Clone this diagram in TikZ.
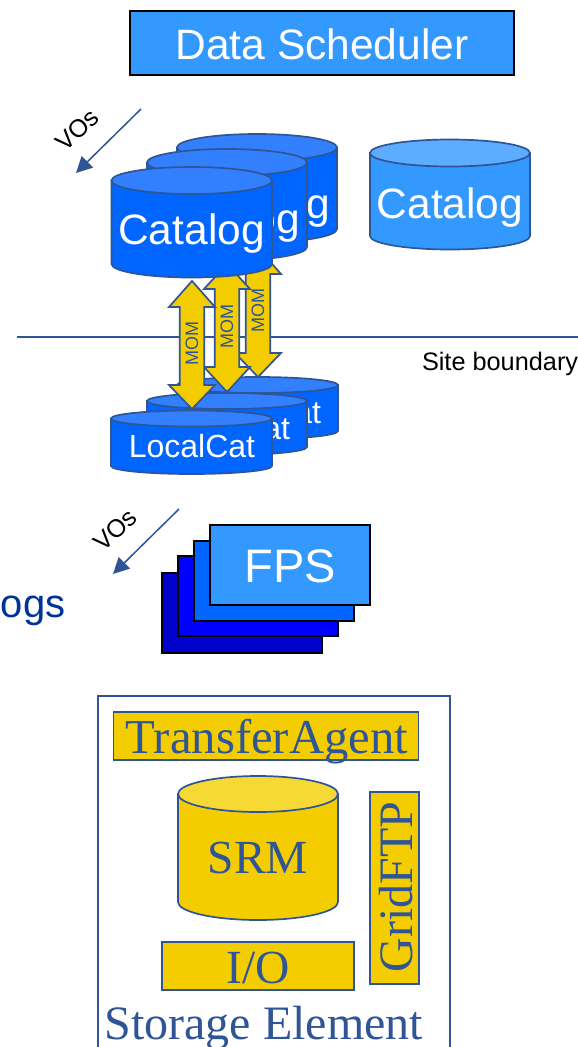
\documentclass[tikz,border=0pt]{standalone}
\usepackage{fontspec}
\setmainfont{Liberation Sans}
\newfontfamily\timesf{Liberation Serif}
\usetikzlibrary{arrows.meta}
\definecolor{edgeblue}{HTML}{2F5597}
\definecolor{skyb}{HTML}{3399FF}
\definecolor{skytop}{HTML}{5CADFF}
\definecolor{midb}{HTML}{0066FF}
\definecolor{midtop}{HTML}{3380FF}
\definecolor{goldf}{HTML}{F4CD00}
\definecolor{goldtop}{HTML}{F6D935}
\definecolor{ogsblue}{HTML}{003399}
\definecolor{darkb}{HTML}{0000CC}
% #1 left, #2 right, #3 ellipse centre y, #4 ry, #5 side end y, #6 body, #7 top
\newcommand{\mycyl}[7]{%
  \pgfmathsetmacro{\rxx}{(#2-#1)/2}%
  \draw[cylline,fill=#6] (#1,#3) -- (#1,#5) arc[start angle=180,end angle=360,x radius=\rxx pt,y radius=#4 pt] -- (#2,#3) -- cycle;%
  \draw[cylline,fill=#7] (#1,#3) arc[start angle=180,end angle=-180,x radius=\rxx pt,y radius=#4 pt] -- cycle;%
}
\newcommand{\mycylb}[8]{%
  \pgfmathsetmacro{\rxx}{(#2-#1)/2}%
  \draw[cylline,fill=#7] (#1,#3) -- (#1,#6) arc[start angle=180,end angle=360,x radius=\rxx pt,y radius=#5 pt] -- (#2,#3) -- cycle;%
  \draw[cylline,fill=#8] (#1,#3) arc[start angle=180,end angle=-180,x radius=\rxx pt,y radius=#4 pt] -- cycle;%
}
% #1 centre x, #2 top tip, #3 top head base, #4 bottom head base, #5 bottom tip
\newcommand{\myarrow}[5]{%
  \draw[cylline,fill=goldf,line join=miter] (#1,#2) -- (#1+23,#3) -- (#1+12.3,#3) -- (#1+12.3,#4) -- (#1+23,#4) -- (#1,#5) -- (#1-23,#4) -- (#1-12.3,#4) -- (#1-12.3,#3) -- (#1-23,#3) -- cycle;%
}
\tikzset{
  cylline/.style={draw=edgeblue,line width=1.7pt},
  txt/.style={inner sep=0pt,outer sep=0pt,anchor=base},
  white txt/.style={txt,text=white},
  serif txt/.style={txt,text=edgeblue,font=\timesf\fontsize{48}{50}\selectfont},
  blackbox/.style={draw=black,line width=2pt},
  goldbox/.style={draw=edgeblue,line width=1.8pt,fill=goldf},
  voarrow/.style={draw=edgeblue,line width=1.5pt,-{Triangle[length=16pt,width=16pt]}},
  mom/.style={inner sep=0pt,rotate=90,text=edgeblue,font=\fontsize{18}{19}\selectfont},
  vos/.style={inner sep=0pt,rotate=43,font=\fontsize{25}{26}\selectfont},
}
\begin{document}
\begin{tikzpicture}[x=1pt,y=-1pt]
\useasboundingbox (0,0) rectangle (578,1047);
\clip (0,0) rectangle (578,1047);
\fill[white] (0,0) rectangle (578,1047);

% Data scheduler
\node[blackbox,fill=skyb,minimum width=384pt,minimum height=64pt,inner sep=0pt] (sched) at (322,43) {};
\node[white txt,font=\fontsize{42.5}{44}\selectfont] (schedt) at (322,59) {Data Scheduler};

% VOs top
\coordinate (vo1a) at (141,109);
\coordinate (vo1b) at (76,173);
\draw[voarrow] (vo1a) -- (vo1b);
\node[vos] (vo1t) at (77,130) {VOs};

% Site boundary
\coordinate (sbl) at (17,337);
\coordinate (sbr) at (578,337);
\draw[edgeblue,line width=1.3pt] (sbl) -- (sbr);
\node[txt,anchor=base west,font=\fontsize{25.3}{27}\selectfont] (sb) at (422,370) {Site boundary};

% local catalogs
\mycyl{177}{338}{385}{8}{431}{midb}{midtop}
\node[white txt,font=\fontsize{32}{33}\selectfont] (lc3) at (258,423) {LocalCat};
\mycyl{147}{307}{401}{8}{447}{midb}{midtop}
\node[white txt,font=\fontsize{32}{33}\selectfont] (lc2) at (227,439) {LocalCat};
\mycyl{111}{272}{418.5}{8}{466}{midb}{midtop}
\node[white txt,font=\fontsize{32}{33}\selectfont] (lc1) at (192,457) {LocalCat};

% MOM arrows
\myarrow{258}{248}{274}{353}{377}
\node[mom] (m3) at (258,310) {MOM};
\myarrow{227}{264}{289}{367}{392}
\node[mom] (m2) at (227,326) {MOM};
\myarrow{192}{281}{307}{385}{409}
\node[mom] (m1) at (192,343) {MOM};

% Catalogs
\mycyl{177}{337}{147.5}{13.5}{229}{midb}{midtop}
\node[white txt,font=\fontsize{42.5}{44}\selectfont] (c3) at (257,218) {Catalog};
\mycyl{147}{307}{162.5}{13.5}{247}{midb}{midtop}
\node[white txt,font=\fontsize{42.5}{44}\selectfont] (c2) at (227,233) {Catalog};
\mycyl{111.5}{272}{180.5}{13.5}{264}{midb}{midtop}
\node[white txt,font=\fontsize{42.5}{44}\selectfont] (c1) at (191.5,244) {Catalog};
\mycyl{370}{530}{153}{13.5}{236}{skyb}{skytop}
\node[white txt,font=\fontsize{42.5}{44}\selectfont] (c4) at (450,218) {Catalog};

% VOs lower
\coordinate (vo2a) at (179,509);
\coordinate (vo2b) at (113,574);
\draw[voarrow] (vo2a) -- (vo2b);
\node[vos] (vo2t) at (115,530) {VOs};

% ogs
\node[txt,anchor=base west,text=ogsblue,font=\fontsize{40}{42}\selectfont] (ogs) at (1,617) {ogs};

% FPS
\node[blackbox,fill=darkb,minimum width=160pt,minimum height=80pt,inner sep=0pt] (f4) at (242,613) {};
\node[blackbox,fill=blue,minimum width=160pt,minimum height=80pt,inner sep=0pt] (f3) at (258,596) {};
\node[blackbox,fill=midb,minimum width=160pt,minimum height=80pt,inner sep=0pt] (f2) at (274,581) {};
\node[blackbox,fill=skyb,minimum width=160pt,minimum height=80pt,inner sep=0pt] (f1) at (290,565) {};
\node[white txt,font=\fontsize{47}{49}\selectfont] (fpst) at (290,582) {FPS};

% Storage element
\draw[edgeblue,line width=1.8pt] (98,1060) -- (98,696) -- (450,696) -- (450,1060);
\node[goldbox,minimum width=305pt,minimum height=48pt,inner sep=0pt] (ta) at (266,736) {};
\node[serif txt,font=\timesf\fontsize{48.7}{50}\selectfont] (tat) at (267,753) {TransferAgent};
\mycyl{178}{338}{794}{18}{902}{goldf}{goldtop}
\node[serif txt,font=\timesf\fontsize{47.5}{49}\selectfont] (srm) at (258,873) {SRM};
\node[goldbox,minimum width=49pt,minimum height=192pt,inner sep=0pt] (gf) at (394.5,888) {};
\node[serif txt,rotate=90] (gft) at (412,887) {GridFTP};
\node[goldbox,minimum width=192pt,minimum height=48pt,inner sep=0pt] (io) at (258,966) {};
\node[serif txt,font=\timesf\fontsize{47.5}{49}\selectfont] (iot) at (258,983) {I/O};
\node[serif txt,anchor=base west] (se) at (104.5,1039) {Storage Element};
\end{tikzpicture}
\end{document}
